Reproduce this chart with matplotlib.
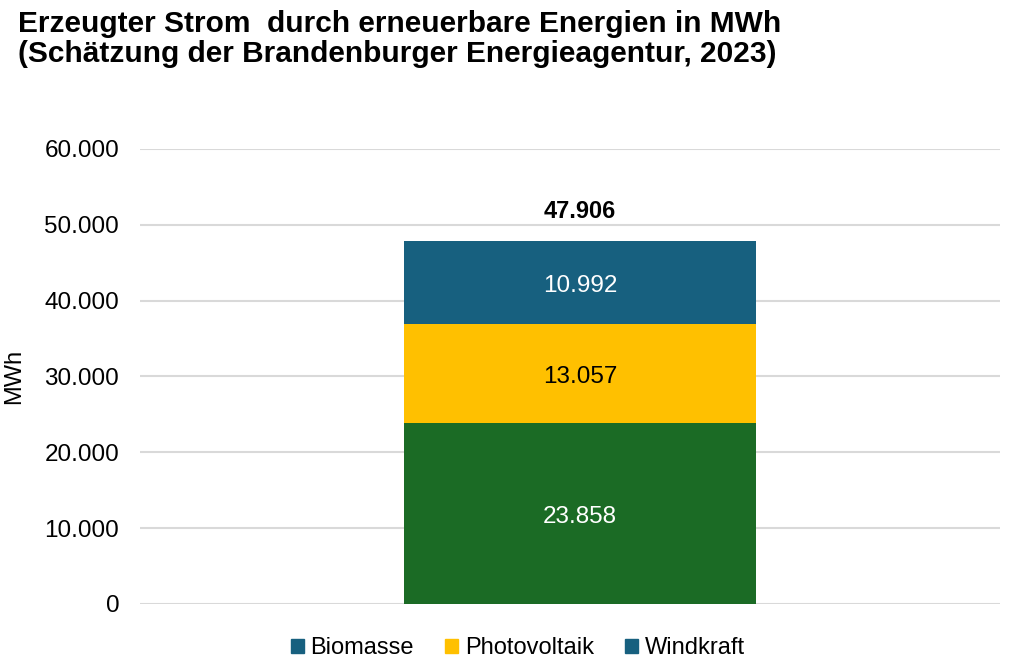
import matplotlib.pyplot as plt
from matplotlib.patches import Patch
from matplotlib.ticker import FuncFormatter

plt.rcParams['font.family'] = ['Liberation Sans', 'DejaVu Sans']

series = ['Biomasse', 'Photovoltaik', 'Windkraft']
values = [23858, 13057, 10992]
total = 47906
bar_colors = ['#1B6B25', '#FFC000', '#17607F']
legend_colors = ['#17607F', '#FFC000', '#17607F']
label_colors = ['white', 'black', 'white']
yticks = [0, 10000, 20000, 30000, 40000, 50000, 60000]


def de_fmt(v):
    return f"{v:,.0f}".replace(',', '.')


fig = plt.figure(figsize=(10.11, 6.66), dpi=100)
ax = fig.add_axes([0.1385, 0.0931, 0.8505, 0.6832])

bottom = 0
for val, col, lcol in zip(values, bar_colors, label_colors):
    ax.bar(0, val, width=1.0, bottom=bottom, color=col, zorder=3)
    ax.text(0, bottom + val / 2 - 500, de_fmt(val), ha='center', va='center',
            fontsize=17.5, color=lcol, zorder=4)
    bottom += val

ax.text(0, bottom + 2300, de_fmt(total), ha='center', va='bottom',
        fontsize=17, fontweight='bold', color='black')

ax.set_xlim(-1.248, 1.192)
ax.set_ylim(0, 60000)
ax.set_yticks(yticks)
ax.yaxis.set_major_formatter(FuncFormatter(lambda v, p: de_fmt(v)))
ax.set_xticks([])
ax.tick_params(axis='y', length=0, labelsize=17.5, pad=15)
ax.grid(axis='y', color='#D9D9D9', linewidth=1.5, zorder=0)
for s in ax.spines.values():
    s.set_visible(False)
ax.set_ylabel('MWh', fontsize=17, labelpad=14)

fig.text(0.018, 0.985, 'Erzeugter Strom  durch erneuerbare Energien in MWh\n'
         '(Schätzung der Brandenburger Energieagentur, 2023)',
         ha='left', va='top', fontsize=21.5, fontweight='bold',
         linespacing=1.08)

handles = [Patch(color=c, label=s) for s, c in zip(series, legend_colors)]
fig.legend(handles=handles, loc='lower center', bbox_to_anchor=(0.512, -0.022),
           ncol=3, frameon=False, fontsize=17, handlelength=0.55,
           handleheight=0.55, handletextpad=0.3, columnspacing=1.3)

fig.savefig('out.png', dpi=100)
